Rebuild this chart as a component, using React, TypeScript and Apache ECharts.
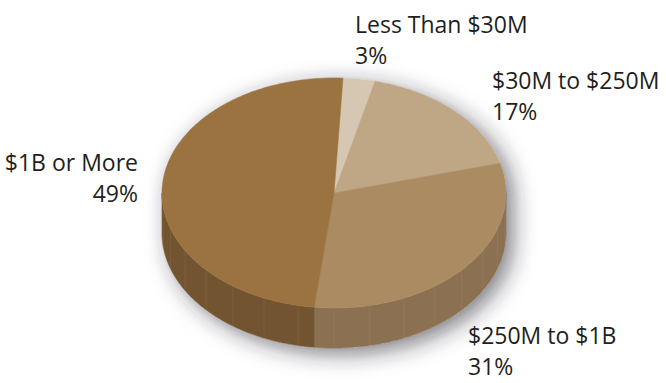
import React, { useEffect, useRef } from "react";
import * as echarts from "echarts";

const categories = ["Less Than $30M", "$30M to $250M", "$250M to $1B", "$1B or More"];
const values = [3, 17, 31, 49];
const percentLabels = ["3%", "17%", "31%", "49%"];
const topColors = ["#d6c7b3", "#bfa685", "#ab8b61", "#9a7340"];
const sideColors = ["#b3a28c", "#a28a69", "#8b7151", "#735431"];

// layout (not data)
const CX = 334;
const CY = 193;
const RX = 172;
const RY = 115;
const DEPTH = 40;
const START_DEG = 3;
const LINE_GAP = 31;
// baseline of the first label line
const labelAnchors = [
  { x: 355, base: 32, align: "left" },
  { x: 492, base: 88, align: "left" },
  { x: 468, base: 343, align: "left" },
  { x: 138, base: 170, align: "right" },
];

const pt = (deg: number, dy = 0): number[] => {
  const r = (deg * Math.PI) / 180;
  return [CX + RX * Math.sin(r), CY - RY * Math.cos(r) + dy];
};

const arcPoints = (a0: number, a1: number, dy = 0): number[][] => {
  const pts: number[][] = [];
  const n = Math.max(2, Math.ceil(Math.abs(a1 - a0)));
  for (let i = 0; i <= n; i++) pts.push(pt(a0 + ((a1 - a0) * i) / n, dy));
  return pts;
};

export default function App() {
  const ref = useRef<HTMLDivElement>(null);
  useEffect(() => {
    if (!ref.current) return;
    const chart = echarts.init(ref.current, undefined, { renderer: "svg" });
    const total = values.reduce((a, b) => a + b, 0);
    const starts: number[] = [];
    let acc = START_DEG;
    values.forEach((v) => {
      starts.push(acc);
      acc += (v / total) * 360;
    });

    const renderItem = (params: any, api: any) => {
      const i = params.dataIndex;
      const v = api.value(0);
      const a0 = starts[i];
      const a1 = a0 + (v / total) * 360;
      const children: any[] = [];
      if (i === 0) {
        const sil = [...arcPoints(-90, 90), ...arcPoints(90, 270, DEPTH)];
        children.push({
          type: "polygon",
          shape: { points: sil },
          style: {
            fill: "#ffffff",
            shadowBlur: 22,
            shadowColor: "rgba(40,40,50,0.6)",
            shadowOffsetX: 7,
            shadowOffsetY: 6,
          },
        });
      }
      // side wall (front half only)
      const s0 = Math.max(a0, 90);
      const s1 = Math.min(a1, 270);
      if (s1 > s0) {
        const top = arcPoints(s0, s1);
        const bottom = arcPoints(s0, s1, DEPTH).reverse();
        children.push({
          type: "polygon",
          shape: { points: [...top, ...bottom] },
          style: { fill: sideColors[i], stroke: sideColors[i], lineWidth: 0.6 },
        });
        for (let a = Math.ceil(s0 / 12) * 12; a < s1; a += 12) {
          const p = pt(a);
          const q = pt(a, DEPTH);
          children.push({
            type: "line",
            shape: { x1: p[0], y1: p[1], x2: q[0], y2: q[1] },
            style: { stroke: "rgba(255,255,255,0.06)", lineWidth: 1 },
          });
        }
      }
      // top face
      children.push({
        type: "polygon",
        shape: { points: [[CX, CY], ...arcPoints(a0, a1)] },
        style: { fill: topColors[i], stroke: topColors[i], lineWidth: 0.6 },
      });
      return { type: "group", children };
    };

    const textStyle = (text: string, align: string) => ({
      text,
      fill: "#231f20",
      fontSize: 23,
      fontFamily: "Open Sans",
      lineHeight: 23,
      align,
      verticalAlign: "middle",
    });

    const graphics: any[] = [];
    categories.forEach((c, i) => {
      const a = labelAnchors[i];
      graphics.push({
        type: "text",
        x: a.x,
        y: a.base - 8,
        z: 10,
        style: textStyle(c, a.align),
      });
      graphics.push({
        type: "text",
        x: a.x,
        y: a.base + LINE_GAP - 8,
        z: 10,
        style: textStyle(percentLabels[i], a.align),
      });
    });

    chart.setOption({
      animation: false,
      backgroundColor: "#ffffff",
      series: [
        {
          type: "custom",
          coordinateSystem: "none",
          renderItem,
          data: values.map((v, i) => ({ name: categories[i], value: [v] })),
        },
      ],
      graphic: graphics,
    });
    return () => chart.dispose();
  }, []);
  return <div ref={ref} style={{ width: 666, height: 383, position: "absolute", left: 0, top: 0 }} />;
}
